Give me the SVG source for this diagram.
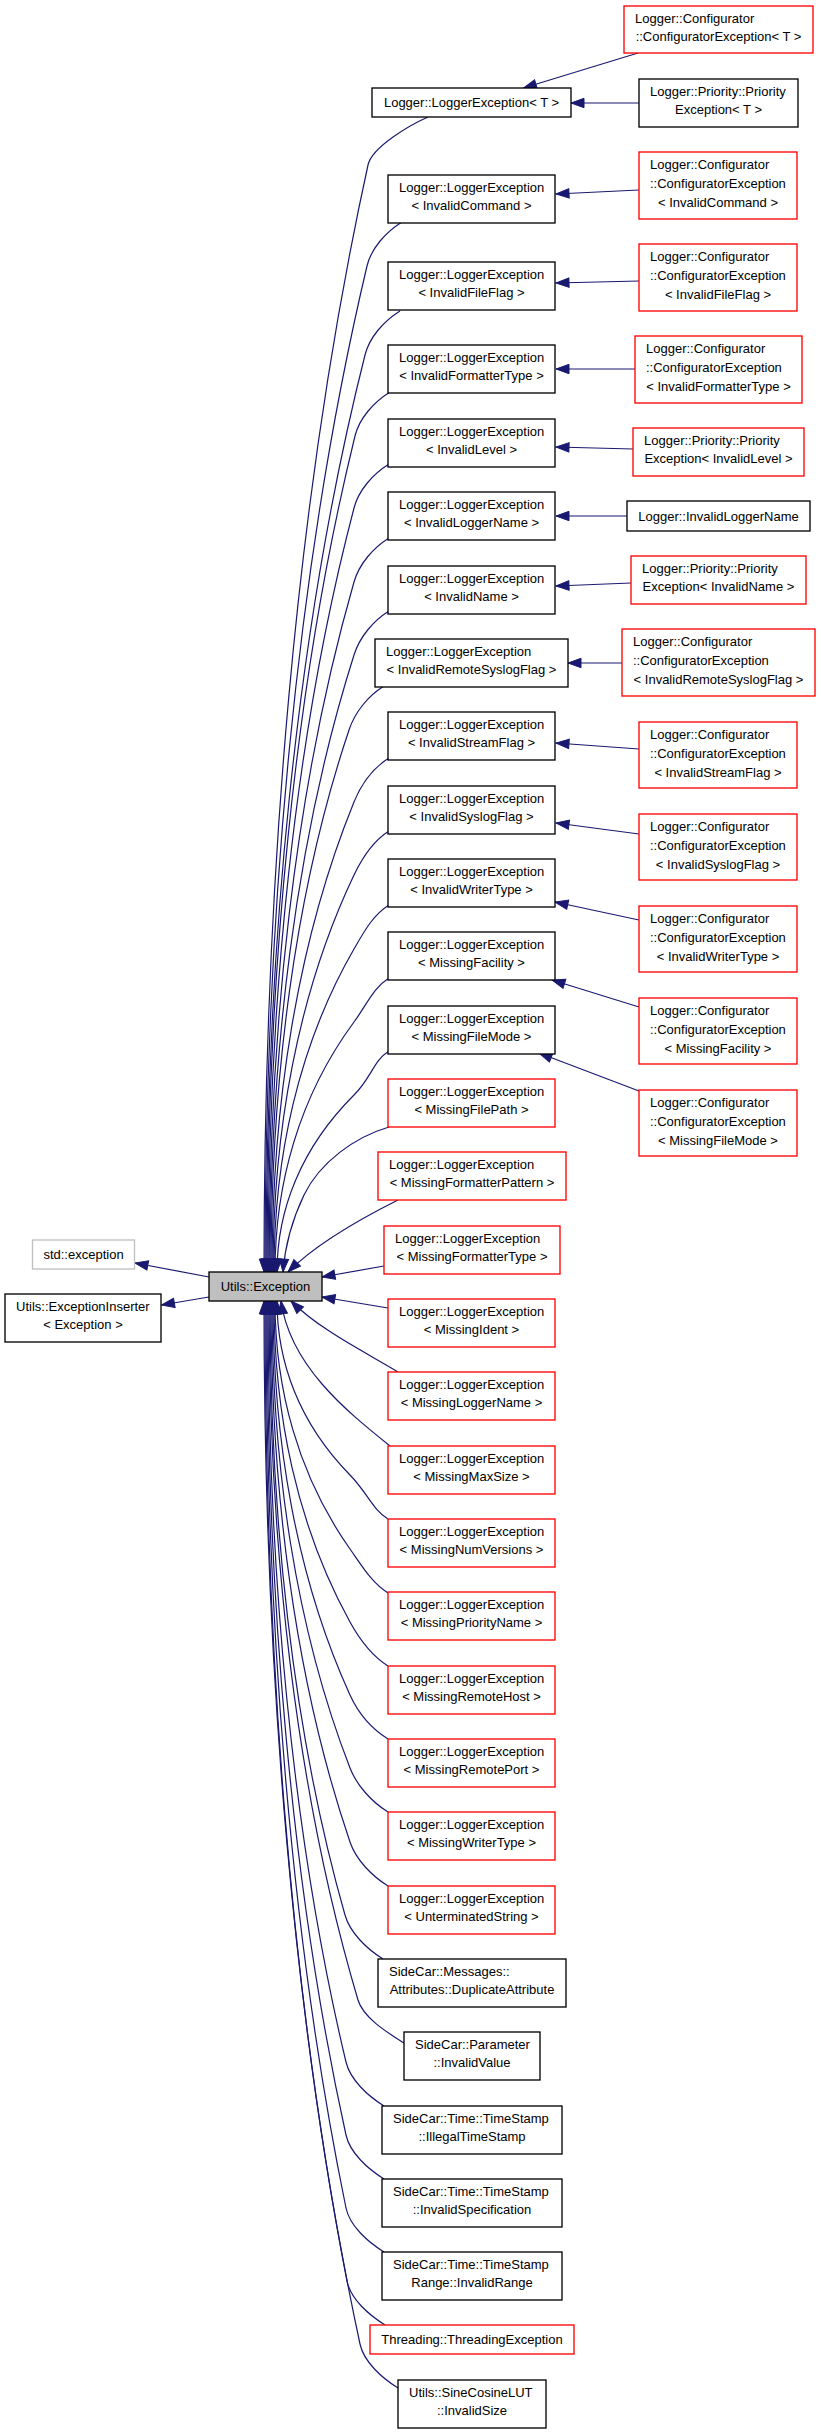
<svg xmlns="http://www.w3.org/2000/svg" width="821" height="2434" viewBox="0 0 821 2434">
<style>
text{font-family:"Liberation Sans",Arial,Helvetica,sans-serif;font-size:13px;fill:#000}
.c{text-anchor:middle}.s{text-anchor:start}
rect{stroke-width:1.33}
.k{fill:#fff;stroke:#000}.r{fill:#fff;stroke:#f00}.g{fill:#fff;stroke:#bfbfbf}.u{fill:#bfbfbf;stroke:#000}
#edges path{fill:none;stroke:#191970;stroke-width:1.2;marker-end:url(#a)}
</style>
<defs>
<marker id="a" markerUnits="userSpaceOnUse" markerWidth="15" markerHeight="12" refX="13" refY="5" orient="auto" overflow="visible"><path d="M0,0.3L13,5L0,9.7z" fill="#191970" stroke="#191970" stroke-width="1"/></marker>
</defs>
<rect width="821" height="2434" fill="#fff"/>
<g id="edges">
<path d="M638,53L523.5,88"/>
<path d="M639,103L571,103"/>
<path d="M639,190L556,194"/>
<path d="M639,281L556,283"/>
<path d="M635,369L556,369"/>
<path d="M633,449L556,447"/>
<path d="M627,516L556,516"/>
<path d="M631,583L556,586"/>
<path d="M622,663L568,663"/>
<path d="M639,749L556,743"/>
<path d="M639,834L556,823"/>
<path d="M639,920L555,902"/>
<path d="M639,1007L552,980"/>
<path d="M639,1091L539,1053"/>
<path d="M209,1277L135,1263"/>
<path d="M209,1297L161.5,1305"/>
<path d="M428,117C410,125 371.9,147 368,165C295.2,497 264,885 264,1272"/>
<path d="M402,222C386,232 371.3,248 367,266C295.6,567.8 265,919.9 265,1272"/>
<path d="M400,311C384,321 369.5,337 365,355C295.7,630.1 266,951 266,1272"/>
<path d="M390,392C374,402 359.4,418 355,436C293.4,686.8 267,979.4 267,1272"/>
<path d="M389,464C373,474 358.7,490 354,508C293.8,737.2 268,1004.6 268,1272"/>
<path d="M389,538C373,548 359.2,564 354,582C294.5,789 269,1030.5 269,1272"/>
<path d="M389,611C373,621 359.7,637 354,655C295.2,840.1 270,1056 270,1272"/>
<path d="M384,686C368,696 355,712 349,730C294.4,892.6 271,1082.3 271,1272"/>
<path d="M389,758C373,768 361.3,784 354,802C296.6,943 272,1107.5 272,1272"/>
<path d="M389,831C373,841 362.6,857 354,875C297.3,994.1 273,1133 273,1272"/>
<path d="M389,905C373,915 364.4,931 354,949C298,1045.9 274,1159 274,1272"/>
<path d="M389,978C373,988 367.3,1004 354,1022C298.7,1097 275,1184.5 275,1272"/>
<path d="M389,1051C373,1061 372,1077 354,1095C300.9,1148.1 277,1210 277,1272"/>
<path d="M389,1127C355,1137 320,1162 304,1195C294,1216 285,1245 283,1272"/>
<path d="M398,1200C370,1214 320,1240 288,1272"/>
<path d="M384,1266L322,1277"/>
<path d="M388,1308L322,1297"/>
<path d="M398,1372C365,1352 320,1330 291,1301"/>
<path d="M390,1446C345,1410 290,1365 281,1301"/>
<path d="M388,1519C372,1509 367.6,1493 350,1475C298.9,1422.8 277,1361.9 277,1301"/>
<path d="M388,1593C372,1583 362.7,1567 350,1549C297.5,1474.6 275,1387.8 275,1301"/>
<path d="M388,1666C372,1656 359.9,1640 350,1622C296.8,1525.7 274,1413.4 274,1301"/>
<path d="M388,1739C372,1729 358.2,1713 350,1695C296.1,1576.8 273,1438.9 273,1301"/>
<path d="M388,1812C372,1802 357,1786 350,1768C295.4,1627.6 272,1464.8 272,1301"/>
<path d="M388,1886C372,1876 356.1,1860 350,1842C294.7,1679.7 271,1490.4 271,1301"/>
<path d="M383,1959C367,1949 350.1,1933 345,1915C292.5,1731 270,1516 270,1301"/>
<path d="M404,2043C388,2033 363.3,2018 358,2000C295.7,1790.3 269,1545.7 269,1301"/>
<path d="M384,2106C368,2096 350.3,2080 346,2062C291.4,1833.7 268,1567.4 268,1301"/>
<path d="M384,2179C368,2169 350,2153 346,2135C290.7,1884.8 267,1592.9 267,1301"/>
<path d="M384,2252C368,2242 349.7,2226 346,2208C290,1935.9 266,1618.5 266,1301"/>
<path d="M385,2325C369,2315 350.5,2299 347,2281C289.6,1987 265,1644 265,1301"/>
<path d="M398,2388C382,2378 363.9,2362 360,2344C292.8,2031.1 264,1666 264,1301"/>
</g>
<g id="std_exception"><rect class="g" x="32.5" y="1240" width="102" height="29"/><text class="c" x="83.5" y="1259">std::exception</text></g>
<g id="exception_inserter"><rect class="k" x="5" y="1294" width="156" height="48"/><text class="s" x="16" y="1310.5">Utils::ExceptionInserter</text><text class="c" x="83" y="1329">&lt; Exception &gt;</text></g>
<g id="utils_exception"><rect class="u" x="209" y="1272" width="113" height="29"/><text class="c" x="265.5" y="1291">Utils::Exception</text></g>
<g id="le_t"><rect class="k" x="372" y="88" width="199" height="29"/><text class="c" x="471.5" y="107">Logger::LoggerException&lt; T &gt;</text></g>
<g id="le_invalidcommand"><rect class="k" x="388" y="175" width="167" height="48"/><text class="s" x="399" y="191.5">Logger::LoggerException</text><text class="c" x="471.5" y="210">&lt; InvalidCommand &gt;</text></g>
<g id="le_invalidfileflag"><rect class="k" x="388" y="262" width="167" height="48"/><text class="s" x="399" y="278.5">Logger::LoggerException</text><text class="c" x="471.5" y="297">&lt; InvalidFileFlag &gt;</text></g>
<g id="le_invalidformattertype"><rect class="k" x="388" y="345" width="167" height="48"/><text class="s" x="399" y="361.5">Logger::LoggerException</text><text class="c" x="471.5" y="380">&lt; InvalidFormatterType &gt;</text></g>
<g id="le_invalidlevel"><rect class="k" x="388" y="419" width="167" height="48"/><text class="s" x="399" y="435.5">Logger::LoggerException</text><text class="c" x="471.5" y="454">&lt; InvalidLevel &gt;</text></g>
<g id="le_invalidloggername"><rect class="k" x="388" y="492" width="167" height="48"/><text class="s" x="399" y="508.5">Logger::LoggerException</text><text class="c" x="471.5" y="527">&lt; InvalidLoggerName &gt;</text></g>
<g id="le_invalidname"><rect class="k" x="388" y="566" width="167" height="48"/><text class="s" x="399" y="582.5">Logger::LoggerException</text><text class="c" x="471.5" y="601">&lt; InvalidName &gt;</text></g>
<g id="le_invalidremotesyslogflag"><rect class="k" x="375" y="639" width="193" height="48"/><text class="s" x="386" y="655.5">Logger::LoggerException</text><text class="c" x="471.5" y="674">&lt; InvalidRemoteSyslogFlag &gt;</text></g>
<g id="le_invalidstreamflag"><rect class="k" x="388" y="712" width="167" height="48"/><text class="s" x="399" y="728.5">Logger::LoggerException</text><text class="c" x="471.5" y="747">&lt; InvalidStreamFlag &gt;</text></g>
<g id="le_invalidsyslogflag"><rect class="k" x="388" y="786" width="167" height="48"/><text class="s" x="399" y="802.5">Logger::LoggerException</text><text class="c" x="471.5" y="821">&lt; InvalidSyslogFlag &gt;</text></g>
<g id="le_invalidwritertype"><rect class="k" x="388" y="859" width="167" height="48"/><text class="s" x="399" y="875.5">Logger::LoggerException</text><text class="c" x="471.5" y="894">&lt; InvalidWriterType &gt;</text></g>
<g id="le_missingfacility"><rect class="k" x="388" y="932" width="167" height="48"/><text class="s" x="399" y="948.5">Logger::LoggerException</text><text class="c" x="471.5" y="967">&lt; MissingFacility &gt;</text></g>
<g id="le_missingfilemode"><rect class="k" x="388" y="1006" width="167" height="48"/><text class="s" x="399" y="1022.5">Logger::LoggerException</text><text class="c" x="471.5" y="1041">&lt; MissingFileMode &gt;</text></g>
<g id="le_missingfilepath"><rect class="r" x="388" y="1079" width="167" height="48"/><text class="s" x="399" y="1095.5">Logger::LoggerException</text><text class="c" x="471.5" y="1114">&lt; MissingFilePath &gt;</text></g>
<g id="le_missingformatterpattern"><rect class="r" x="378" y="1152" width="188" height="48"/><text class="s" x="389" y="1168.5">Logger::LoggerException</text><text class="c" x="472" y="1187">&lt; MissingFormatterPattern &gt;</text></g>
<g id="le_missingformattertype"><rect class="r" x="384" y="1226" width="176" height="48"/><text class="s" x="395" y="1242.5">Logger::LoggerException</text><text class="c" x="472" y="1261">&lt; MissingFormatterType &gt;</text></g>
<g id="le_missingident"><rect class="r" x="388" y="1299" width="167" height="48"/><text class="s" x="399" y="1315.5">Logger::LoggerException</text><text class="c" x="471.5" y="1334">&lt; MissingIdent &gt;</text></g>
<g id="le_missingloggername"><rect class="r" x="388" y="1372" width="167" height="48"/><text class="s" x="399" y="1388.5">Logger::LoggerException</text><text class="c" x="471.5" y="1407">&lt; MissingLoggerName &gt;</text></g>
<g id="le_missingmaxsize"><rect class="r" x="388" y="1446" width="167" height="48"/><text class="s" x="399" y="1462.5">Logger::LoggerException</text><text class="c" x="471.5" y="1481">&lt; MissingMaxSize &gt;</text></g>
<g id="le_missingnumversions"><rect class="r" x="388" y="1519" width="167" height="48"/><text class="s" x="399" y="1535.5">Logger::LoggerException</text><text class="c" x="471.5" y="1554">&lt; MissingNumVersions &gt;</text></g>
<g id="le_missingpriorityname"><rect class="r" x="388" y="1592" width="167" height="48"/><text class="s" x="399" y="1608.5">Logger::LoggerException</text><text class="c" x="471.5" y="1627">&lt; MissingPriorityName &gt;</text></g>
<g id="le_missingremotehost"><rect class="r" x="388" y="1666" width="167" height="48"/><text class="s" x="399" y="1682.5">Logger::LoggerException</text><text class="c" x="471.5" y="1701">&lt; MissingRemoteHost &gt;</text></g>
<g id="le_missingremoteport"><rect class="r" x="388" y="1739" width="167" height="48"/><text class="s" x="399" y="1755.5">Logger::LoggerException</text><text class="c" x="471.5" y="1774">&lt; MissingRemotePort &gt;</text></g>
<g id="le_missingwritertype"><rect class="r" x="388" y="1812" width="167" height="48"/><text class="s" x="399" y="1828.5">Logger::LoggerException</text><text class="c" x="471.5" y="1847">&lt; MissingWriterType &gt;</text></g>
<g id="le_unterminatedstring"><rect class="r" x="388" y="1886" width="167" height="48"/><text class="s" x="399" y="1902.5">Logger::LoggerException</text><text class="c" x="471.5" y="1921">&lt; UnterminatedString &gt;</text></g>
<g id="duplicateattribute"><rect class="k" x="378" y="1959" width="188" height="48"/><text class="s" x="389" y="1975.5">SideCar::Messages::</text><text class="c" x="472" y="1994">Attributes::DuplicateAttribute</text></g>
<g id="invalidvalue"><rect class="k" x="404" y="2032" width="136" height="48"/><text class="s" x="415" y="2048.5">SideCar::Parameter</text><text class="c" x="472" y="2067">::InvalidValue</text></g>
<g id="illegaltimestamp"><rect class="k" x="382" y="2106" width="180" height="48"/><text class="s" x="393" y="2122.5">SideCar::Time::TimeStamp</text><text class="c" x="472" y="2141">::IllegalTimeStamp</text></g>
<g id="invalidspecification"><rect class="k" x="382" y="2179" width="180" height="48"/><text class="s" x="393" y="2195.5">SideCar::Time::TimeStamp</text><text class="c" x="472" y="2214">::InvalidSpecification</text></g>
<g id="invalidrange"><rect class="k" x="382" y="2252" width="180" height="48"/><text class="s" x="393" y="2268.5">SideCar::Time::TimeStamp</text><text class="c" x="472" y="2287">Range::InvalidRange</text></g>
<g id="threadingexception"><rect class="r" x="370" y="2325" width="204" height="29"/><text class="c" x="472" y="2344">Threading::ThreadingException</text></g>
<g id="invalidsize"><rect class="k" x="398" y="2380" width="148" height="48"/><text class="s" x="409" y="2396.5">Utils::SineCosineLUT</text><text class="c" x="472" y="2415">::InvalidSize</text></g>
<g id="ce_t"><rect class="r" x="624" y="6" width="189" height="47"/><text class="s" x="635" y="22.5">Logger::Configurator</text><text class="c" x="718.5" y="41">::ConfiguratorException&lt; T &gt;</text></g>
<g id="pe_t"><rect class="k" x="639" y="79" width="159" height="48"/><text class="s" x="650" y="95.5">Logger::Priority::Priority</text><text class="c" x="718.5" y="114">Exception&lt; T &gt;</text></g>
<g id="ce_invalidcommand"><rect class="r" x="639" y="152" width="158" height="67"/><text class="s" x="650" y="169">Logger::Configurator</text><text class="s" x="650" y="188">::ConfiguratorException</text><text class="c" x="718" y="206.5">&lt; InvalidCommand &gt;</text></g>
<g id="ce_invalidfileflag"><rect class="r" x="639" y="244" width="158" height="67"/><text class="s" x="650" y="261">Logger::Configurator</text><text class="s" x="650" y="280">::ConfiguratorException</text><text class="c" x="718" y="298.5">&lt; InvalidFileFlag &gt;</text></g>
<g id="ce_invalidformattertype"><rect class="r" x="635" y="336" width="167" height="67"/><text class="s" x="646" y="353">Logger::Configurator</text><text class="s" x="646" y="372">::ConfiguratorException</text><text class="c" x="718.5" y="390.5">&lt; InvalidFormatterType &gt;</text></g>
<g id="pe_invalidlevel"><rect class="r" x="633" y="428" width="171" height="48"/><text class="s" x="644" y="444.5">Logger::Priority::Priority</text><text class="c" x="718.5" y="463">Exception&lt; InvalidLevel &gt;</text></g>
<g id="invalidloggername"><rect class="k" x="627" y="501" width="183" height="30"/><text class="c" x="718.5" y="520.5">Logger::InvalidLoggerName</text></g>
<g id="pe_invalidname"><rect class="r" x="631" y="556" width="175" height="48"/><text class="s" x="642" y="572.5">Logger::Priority::Priority</text><text class="c" x="718.5" y="591">Exception&lt; InvalidName &gt;</text></g>
<g id="ce_invalidremotesyslogflag"><rect class="r" x="622" y="629" width="193" height="67"/><text class="s" x="633" y="646">Logger::Configurator</text><text class="s" x="633" y="665">::ConfiguratorException</text><text class="c" x="718.5" y="683.5">&lt; InvalidRemoteSyslogFlag &gt;</text></g>
<g id="ce_invalidstreamflag"><rect class="r" x="639" y="722" width="158" height="66"/><text class="s" x="650" y="739">Logger::Configurator</text><text class="s" x="650" y="758">::ConfiguratorException</text><text class="c" x="718" y="776.5">&lt; InvalidStreamFlag &gt;</text></g>
<g id="ce_invalidsyslogflag"><rect class="r" x="639" y="814" width="158" height="66"/><text class="s" x="650" y="831">Logger::Configurator</text><text class="s" x="650" y="850">::ConfiguratorException</text><text class="c" x="718" y="868.5">&lt; InvalidSyslogFlag &gt;</text></g>
<g id="ce_invalidwritertype"><rect class="r" x="639" y="906" width="158" height="66"/><text class="s" x="650" y="923">Logger::Configurator</text><text class="s" x="650" y="942">::ConfiguratorException</text><text class="c" x="718" y="960.5">&lt; InvalidWriterType &gt;</text></g>
<g id="ce_missingfacility"><rect class="r" x="639" y="998" width="158" height="66"/><text class="s" x="650" y="1015">Logger::Configurator</text><text class="s" x="650" y="1034">::ConfiguratorException</text><text class="c" x="718" y="1052.5">&lt; MissingFacility &gt;</text></g>
<g id="ce_missingfilemode"><rect class="r" x="639" y="1090" width="158" height="66"/><text class="s" x="650" y="1107">Logger::Configurator</text><text class="s" x="650" y="1126">::ConfiguratorException</text><text class="c" x="718" y="1144.5">&lt; MissingFileMode &gt;</text></g>
</svg>
